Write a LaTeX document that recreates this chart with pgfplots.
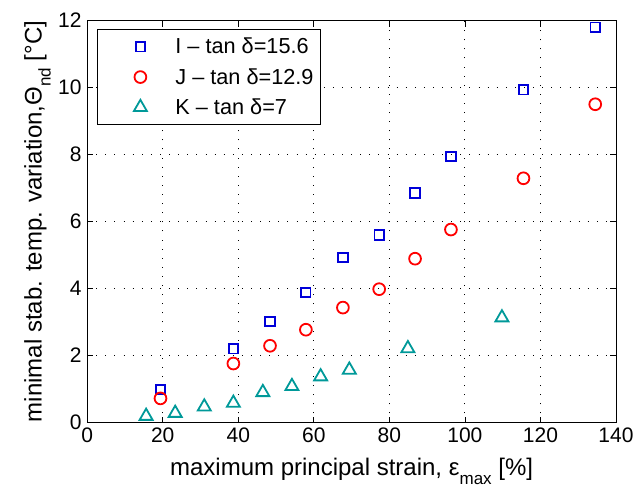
\documentclass[border=0pt]{standalone}
\usepackage{fontspec}
\setmainfont{Liberation Sans}
\usepackage{pgfplots}
\pgfplotsset{compat=1.18}
\definecolor{mblue}{rgb}{0,0,0.85}
\definecolor{mteal}{rgb}{0,0.6,0.6}
\definecolor{mred}{rgb}{1,0,0}
\newcommand{\tfont}{\fontsize{21}{25}\selectfont}
\newcommand{\lfont}{\fontsize{24}{28}\selectfont}
\newcommand{\gfont}{\fontsize{21.7}{26}\selectfont}
\newcommand{\sfont}{\fontsize{17}{20}\selectfont}
\pgfplotsset{mk/.style={only marks, line width=1.8pt,
  legend image code/.code={\path[draw=none,fill=none] (0pt,-5pt) rectangle (50pt,5pt);
    \draw[mark repeat=2,mark phase=2,##1] plot coordinates {(0pt,0pt)(35.7pt,0pt)(50pt,0pt)};}}}
\begin{document}
\begin{tikzpicture}
\begin{axis}[
 scale only axis, width=528.8pt, height=402pt,
 xmin=0,xmax=140,ymin=0,ymax=12,
 xtick={0,20,...,140}, ytick={0,2,...,12},
 tick align=inside, major tick length=6pt,
 axis line style={line width=0.9pt},
 tick style={line width=0.8pt, black},
 grid=major, major grid style={black, line width=0.9pt, dash pattern=on 1pt off 8.1pt},
 /pgf/number format/assume math mode=true,
 ticklabel style={font=\tfont},
 xticklabel style={anchor=base, yshift=-20pt, inner sep=0pt},
 yticklabel style={anchor=east, xshift=-5.5pt, inner sep=0pt},
 xlabel={maximum principal strain, ε\raisebox{-9pt}{\sfont max} [\%]},
 ylabel={minimal stab. temp. variation,Θ\raisebox{-9pt}{\sfont nd} [°C]},
 xlabel style={font=\lfont, at={(axis description cs:0.5,0)}, anchor=base, yshift=-52.5pt, inner sep=0pt},
 ylabel style={font=\lfont, at={(axis description cs:0,0.5)}, anchor=base, yshift=45.5pt, inner sep=0pt},
 legend style={at={(0.0191,0.978)}, anchor=north west, draw=black, line width=0.8pt, fill=white,
   inner xsep=7pt, inner ysep=8.5pt, row sep=13pt, font=\gfont,
   nodes={inner sep=0pt}, cells={anchor=west},
   /tikz/every odd column/.style={column sep=20.7pt}},
]
\addplot[mk, mblue, mark=square, mark size=4.7pt] coordinates {
 (19.4,0.99)(38.7,2.20)(48.4,3.02)(57.9,3.88)(67.7,4.92)(77.3,5.60)(86.8,6.85)(96.3,7.94)(115.5,9.93)(134.5,11.80)};
\addlegendentry{I – tan δ=15.6}
\addplot[mk, mred, mark=o, mark size=5.9pt] coordinates {
 (19.4,0.72)(38.7,1.76)(48.4,2.29)(57.9,2.77)(67.7,3.43)(77.3,3.98)(86.8,4.89)(96.3,5.76)(115.5,7.29)(134.5,9.50)};
\addlegendentry{J – tan δ=12.9}
\addplot[mk, mteal, mark=triangle, mark size=7.5pt] coordinates {
 (15.6,0.19)(23.3,0.28)(31.0,0.47)(38.7,0.58)(46.5,0.90)(54.2,1.08)(61.8,1.37)(69.4,1.57)(84.9,2.21)(109.8,3.13)};
\addlegendentry{K – tan δ=7}
\end{axis}
\pgfresetboundingbox
\path[use as bounding box] ([shift={(-87.2pt,-65.5pt)}]current axis.south west) rectangle ([shift={(19pt,20.5pt)}]current axis.north east);
\end{tikzpicture}
\end{document}
